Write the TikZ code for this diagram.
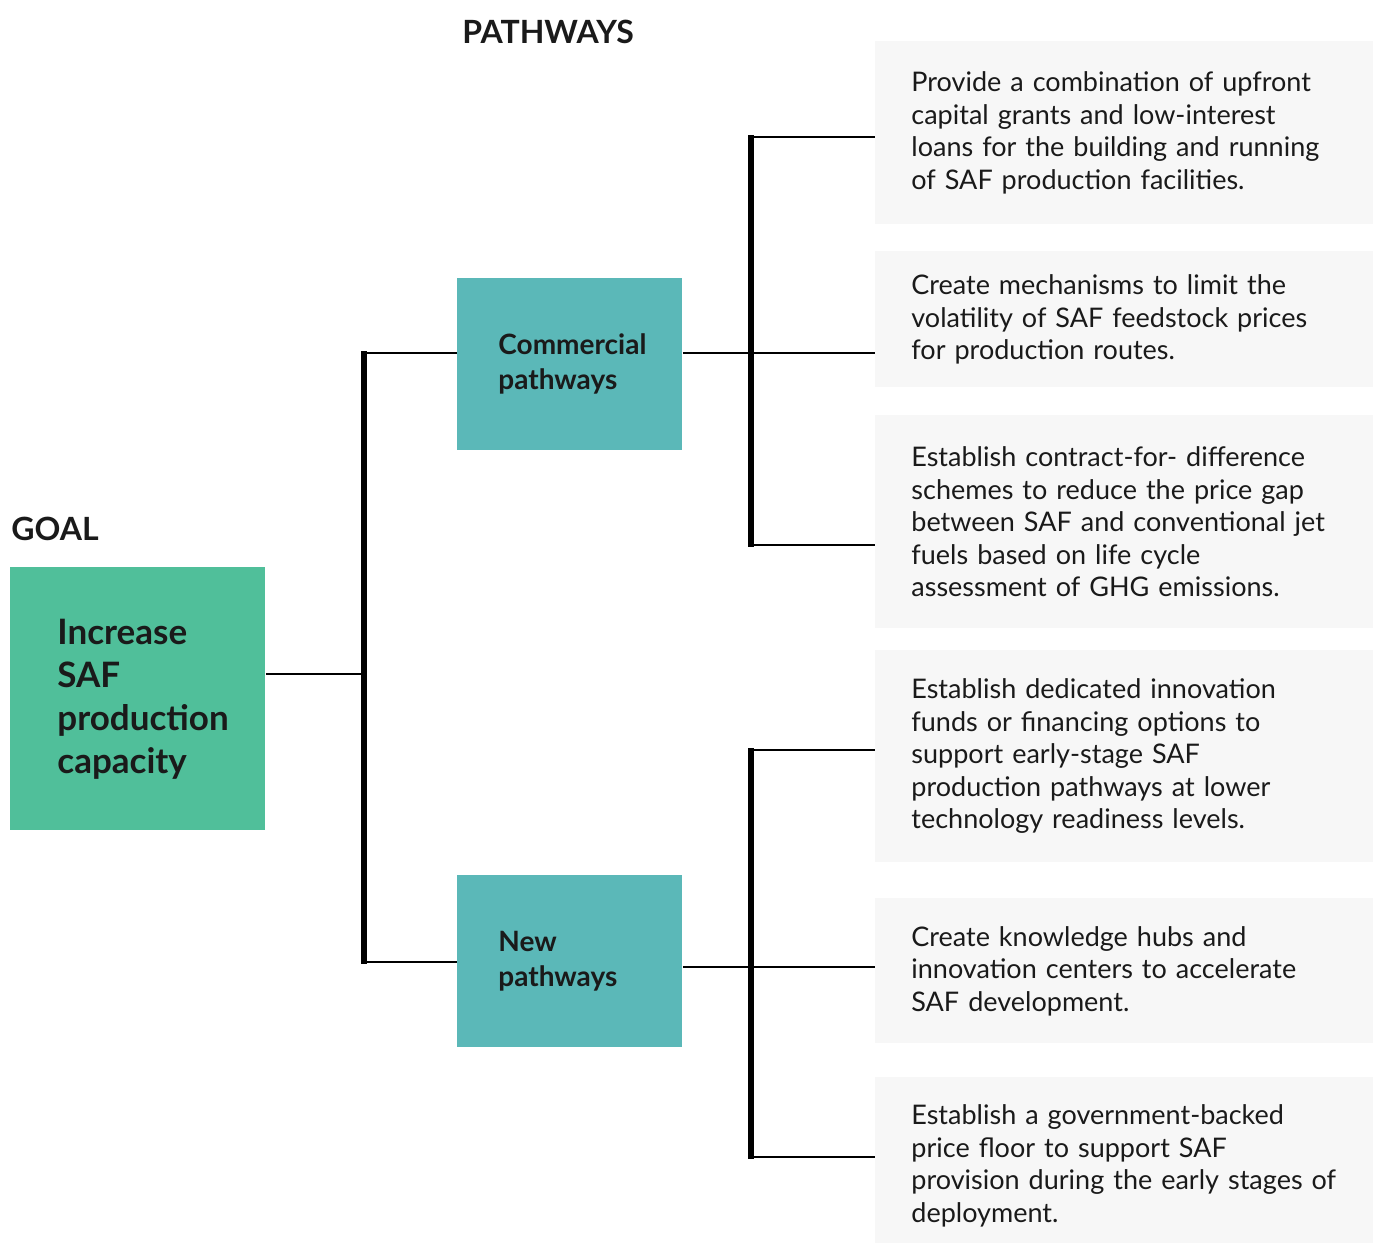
\documentclass[tikz,border=0pt]{standalone}
\usepackage{fontspec}
\setmainfont{Lato}
\usetikzlibrary{positioning}

\definecolor{goalgreen}{HTML}{50BF9A}
\definecolor{pathteal}{HTML}{5BB8B8}
\definecolor{actgrey}{HTML}{F7F7F7}
\definecolor{inkdark}{HTML}{1A1A1A}

\tikzset{
  goalbox/.style={fill=goalgreen, text=inkdark, anchor=north west, font=\bfseries\fontsize{17.5}{21.5}\selectfont,
    minimum width=127.5pt, minimum height=131.5pt, inner xsep=23.5pt, text width=80.5pt, align=left},
  pathbox/.style={fill=pathteal, text=inkdark, anchor=north west, font=\bfseries\fontsize{14}{17.5}\selectfont,
    minimum width=112.5pt, minimum height=86pt, inner xsep=20.5pt, text width=71.5pt, align=left},
  actbox/.style={fill=actgrey, text=inkdark, anchor=north west, font=\fontsize{13.5}{16.25}\selectfont,
    minimum width=249pt, inner xsep=18pt, text width=213pt, align=left},
  heading/.style={text=inkdark, anchor=base west, inner sep=0pt, font=\bfseries\fontsize{16}{20}\selectfont},
  link/.style={line width=1pt},
  trunk/.style={line width=3pt}
}

\begin{document}
\begin{tikzpicture}[x=0.5pt, y=-0.5pt]
  \useasboundingbox (0,0) rectangle (1378,1243);

  % headings
  \node[heading] (goallabel) at (11,540) {GOAL};
  \node[heading] (pathlabel) at (462,43) {PATHWAYS};

  % goal and pathways
  \node[goalbox] (goal) at (10,567) {Increase\\SAF\\production\\capacity};
  \node[pathbox] (comm) at (457,278) {Commercial\\pathways};
  \node[pathbox] (new) at (457,875) {New\\pathways};

  % actions
  \node[actbox, minimum height=91.5pt] (act1) at (875,41)
    {Provide a combination of upfront\\capital grants and low-interest\\loans for the building and running\\of SAF production facilities.};
  \node[actbox, minimum height=68pt] (act2) at (875,251)
    {Create mechanisms to limit the\\volatility of SAF feedstock prices\\for production routes.};
  \node[actbox, minimum height=106.5pt] (act3) at (875,415)
    {Establish contract-for- difference\\schemes to reduce the price gap\\between SAF and conventional jet\\fuels based on life cycle\\assessment of GHG emissions.};
  \node[actbox, minimum height=106pt] (act4) at (875,650)
    {Establish dedicated innovation\\funds or financing options to\\support early-stage SAF\\production pathways at lower\\technology readiness levels.};
  \node[actbox, minimum height=72.5pt] (act5) at (875,898)
    {Create knowledge hubs and\\innovation centers to accelerate\\SAF development.};
  \node[actbox, minimum height=88.5pt] (act6) at (875,1077)
    {Establish a government-backed\\price floor to support SAF\\provision during the early stages of\\deployment.};

  % junctions
  \coordinate (jgoal) at (364,674);
  \coordinate (jcomm) at (364,353);
  \coordinate (jnew) at (364,962);
  \coordinate (kcomm) at (751,353);
  \coordinate (knew) at (751,967);
  \coordinate (k1) at (751,137);
  \coordinate (k3) at (751,545);
  \coordinate (k4) at (751,750);
  \coordinate (k6) at (751,1157);

  % goal to pathways
  \draw[link] (goal.east |- jgoal) -- (jgoal);
  \draw[trunk] ([yshift=1pt]jcomm) -- ([yshift=-1pt]jnew);
  \draw[link] (jcomm) -- (comm.west |- jcomm);
  \draw[link] (jnew) -- (new.west |- jnew);

  % pathways to actions
  \draw[link] (comm.east |- kcomm) -- (act2.west |- kcomm);
  \draw[trunk] ([yshift=1pt]k1) -- ([yshift=-1pt]k3);
  \draw[link] (k1) -- (act1.west |- k1);
  \draw[link] (k3) -- (act3.west |- k3);

  \draw[link] (new.east |- knew) -- (act5.west |- knew);
  \draw[trunk] ([yshift=1pt]k4) -- ([yshift=-1pt]k6);
  \draw[link] (k4) -- (act4.west |- k4);
  \draw[link] (k6) -- (act6.west |- k6);
\end{tikzpicture}
\end{document}
